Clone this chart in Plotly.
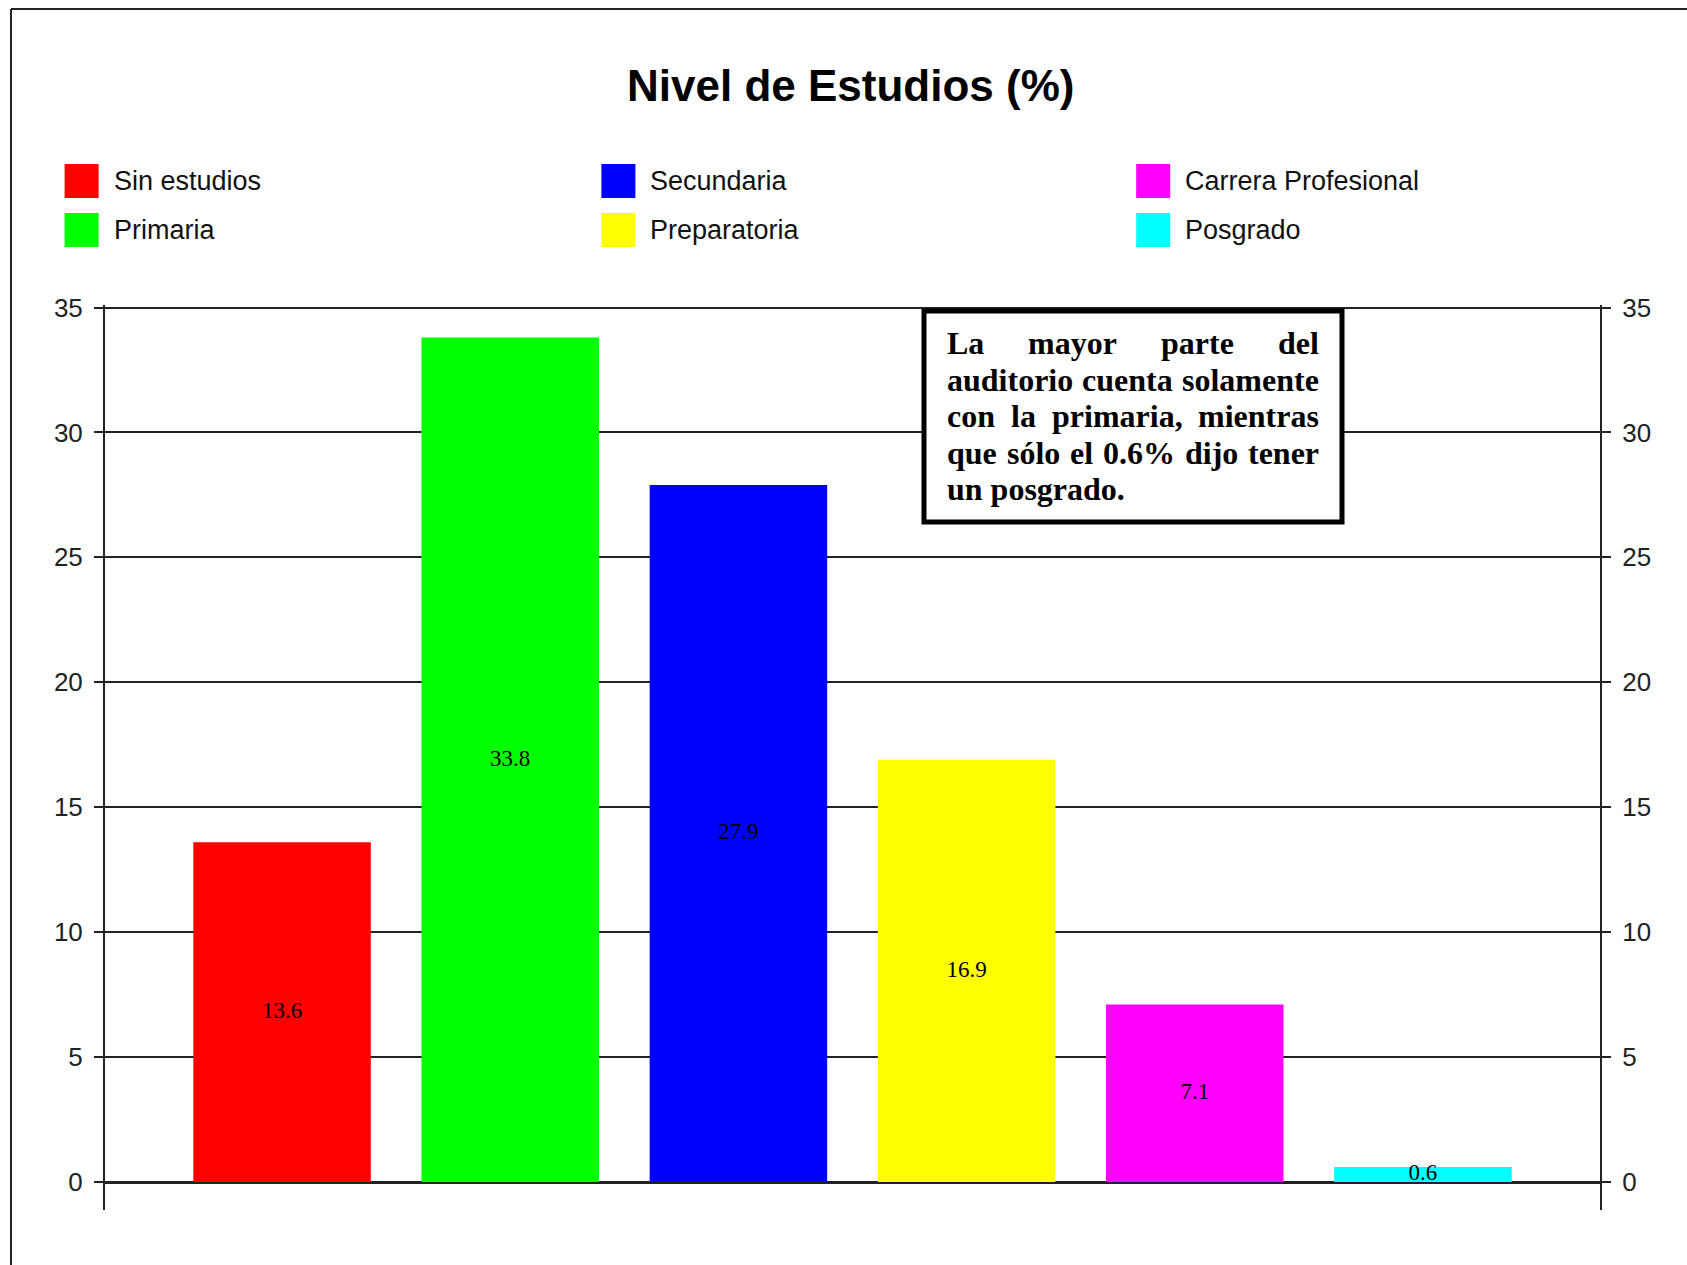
import plotly.graph_objects as go

# --- data -------------------------------------------------------------
categories = ["Sin estudios", "Primaria", "Secundaria", "Preparatoria",
              "Carrera Profesional", "Posgrado"]
percentages = [13.6, 33.8, 27.9, 16.9, 7.1, 0.6]
bar_colors = ["#ff0000", "#00ff00", "#0000ff", "#ffff00", "#ff00ff", "#00ffff"]
y_ticks = [0, 5, 10, 15, 20, 25, 30, 35]
title_text = "Nivel de Estudios (%)"

# note text, one list of (word, left pixel) per justified line
note_lines = [
    [("La", 944.8), ("mayor", 1026.2), ("parte", 1159.2), ("del", 1276.2)],
    [("auditorio", 944.8), ("cuenta", 1080.2), ("solamente", 1180.1)],
    [("con", 944.8), ("la", 1008.7), ("primaria,", 1049.5), ("mientras", 1196.1)],
    [("que", 944.8), ("sólo", 1004.5), ("el", 1067.7), ("0.6%", 1100.7),
     ("dijo", 1182.6), ("tener", 1245.8)],
    [("un posgrado.", 944.8)],
]
note_line_y = [343.0, 379.5, 416.0, 452.5, 489.0]

# --- page geometry ----------------------------------------------------
W, H = 1687, 1265
ML, MR, MT, MB = 105, 87, 305, 55
PW, PH = W - ML - MR, H - MT - MB


def px_x(p):
    return (p - ML) / PW


def px_y(p):
    return (H - MB - p) / PH


AX = "#222222"

fig = go.Figure()
fig.add_trace(go.Bar(
    x=categories, y=percentages,
    marker=dict(color=bar_colors, line=dict(width=0)),
    showlegend=False, hoverinfo="x+y",
))
fig.add_trace(go.Scatter(
    x=categories, y=[v / 2 for v in percentages], yaxis="y2",
    mode="text", text=[f"{v:.1f}" for v in percentages],
    textfont=dict(family="Liberation Serif", size=23, color="black"),
    showlegend=False, hoverinfo="skip",
))

axis_common = dict(
    range=[-1.12, 35.1], tickvals=y_ticks, ticks="outside", ticklen=9,
    tickwidth=2, tickcolor=AX, showline=True, linewidth=2, linecolor=AX,
    tickfont=dict(family="Liberation Sans", size=26, color=AX),
    ticklabelstandoff=6,
)

shapes = []
annotations = []

# outer frame (left and top edges)
shapes.append(dict(type="line", xref="paper", yref="paper",
                   x0=px_x(11), x1=px_x(11), y0=px_y(9), y1=px_y(H + 5),
                   line=dict(color=AX, width=2)))
shapes.append(dict(type="line", xref="paper", yref="paper",
                   x0=px_x(11), x1=px_x(W + 5), y0=px_y(9), y1=px_y(9),
                   line=dict(color=AX, width=2)))

# legend: three columns, two rows, filled column by column
col_x = [64.6, 601.4, 1136.2]
row_y = [181.0, 230.0]
sw = 34
for i, (name, col) in enumerate(zip(categories, bar_colors)):
    cx = col_x[i // 2]
    cy = row_y[i % 2]
    shapes.append(dict(type="rect", xref="paper", yref="paper",
                       x0=px_x(cx), x1=px_x(cx + sw),
                       y0=px_y(cy + sw / 2), y1=px_y(cy - sw / 2),
                       fillcolor=col, line=dict(width=0)))
    annotations.append(dict(xref="paper", yref="paper", x=px_x(cx + 47),
                            y=px_y(cy), xanchor="left", yanchor="middle",
                            text=name, showarrow=False,
                            font=dict(family="Liberation Sans", size=27,
                                      color="#111111")))

# title
annotations.append(dict(xref="paper", yref="paper", x=px_x(850), y=px_y(86),
                        xanchor="center", yanchor="middle",
                        text=f"<b>{title_text}</b>", showarrow=False,
                        font=dict(family="Liberation Sans", size=44,
                                  color="black")))

# note box
shapes.append(dict(type="rect", xref="paper", yref="paper", layer="above",
                   x0=px_x(924), x1=px_x(1342), y0=px_y(522), y1=px_y(311),
                   fillcolor="white", line=dict(color="black", width=5)))
for words, ly in zip(note_lines, note_line_y):
    for word, lx in words:
        annotations.append(dict(xref="paper", yref="paper", x=px_x(lx),
                                y=px_y(ly), xanchor="left", yanchor="middle",
                                text=f"<b>{word}</b>", showarrow=False,
                                font=dict(family="Liberation Serif", size=32,
                                          color="black")))

fig.update_layout(
    width=W, height=H,
    margin=dict(l=ML, r=MR, t=MT, b=MB, pad=0),
    paper_bgcolor="white", plot_bgcolor="white",
    bargap=0.222,
    xaxis=dict(type="category", range=[-0.776, 5.776], showticklabels=False,
               showgrid=False, zeroline=False, showline=False, ticks=""),
    yaxis=dict(**axis_common, showgrid=True, gridcolor=AX, gridwidth=2,
               zeroline=True, zerolinecolor=AX, zerolinewidth=3),
    yaxis2=dict(**axis_common, overlaying="y", side="right",
                showgrid=False, zeroline=False),
    shapes=shapes,
    annotations=annotations,
)

fig.write_html("out.html")
